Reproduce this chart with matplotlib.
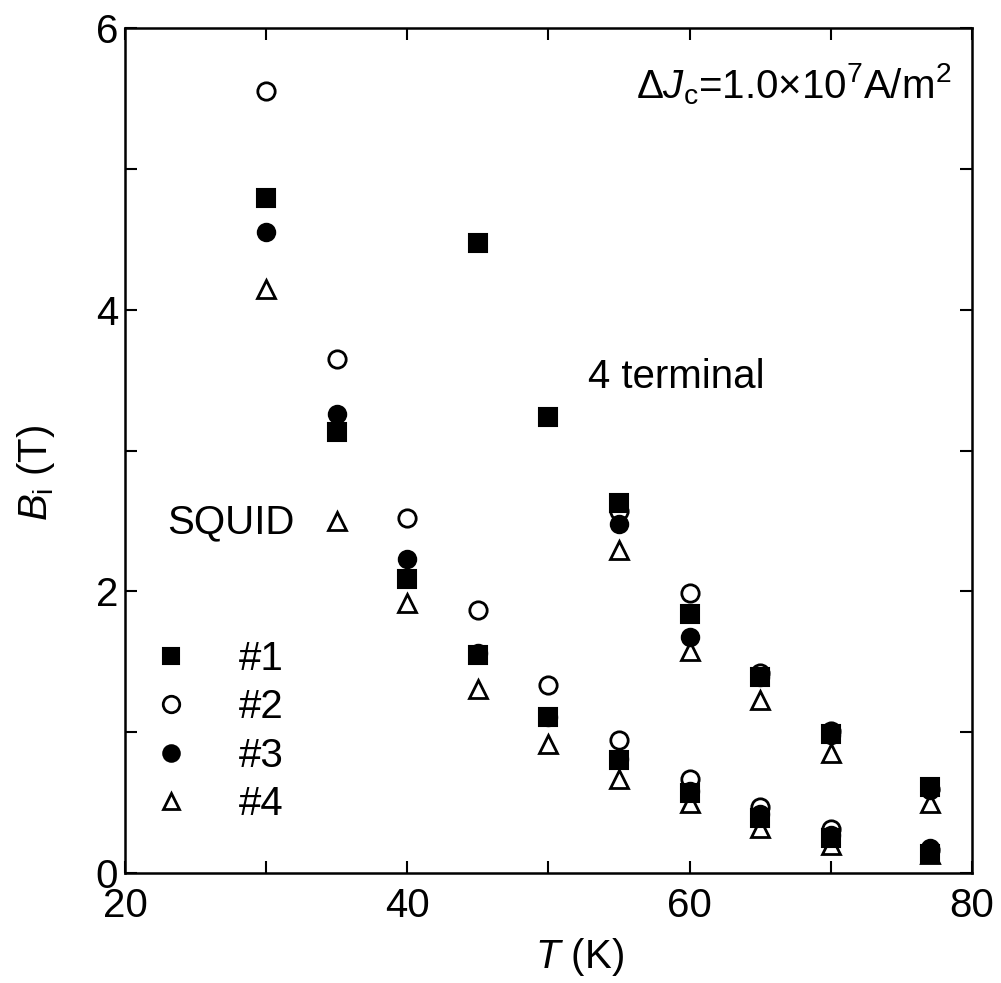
import numpy as np
import matplotlib
matplotlib.use("Agg")
import matplotlib.pyplot as plt
from matplotlib.lines import Line2D

plt.rcParams['font.family'] = ['Liberation Sans', 'DejaVu Sans']
plt.rcParams['mathtext.fontset'] = 'custom'
plt.rcParams['mathtext.rm'] = 'Liberation Sans'
plt.rcParams['mathtext.it'] = 'Liberation Sans:italic'
plt.rcParams['mathtext.bf'] = 'Liberation Sans:bold'

nan = np.nan

# SQUID measurements
T_squid = [30, 35, 40, 45, 50, 55, 60, 65, 70, 77]
squid_1 = [4.79, 3.13, 2.085, 1.546, 1.106, 0.80, 0.567, 0.39, 0.25, 0.135]
squid_2 = [5.55, 3.65, 2.52, 1.87, 1.333, 0.943, 0.67, 0.468, 0.31, 0.16]
squid_3 = [4.555, 3.26, 2.23, 1.565, 1.11, 0.81, 0.58, 0.42, 0.27, 0.18]
squid_4 = [4.15, 2.50, 1.92, 1.31, 0.915, 0.67, 0.50, 0.32, 0.20, 0.135]

# 4 terminal measurements
T_4t = [45, 50, 55, 60, 65, 70, 77]
term_1 = [4.475, 3.24, 2.63, 1.84, 1.39, 0.99, 0.613]
term_2 = [nan, nan, 2.57, 1.985, 1.42, 1.01, 0.60]
term_3 = [nan, nan, 2.475, 1.675, 1.39, 0.98, 0.59]
term_4 = [nan, nan, 2.29, 1.575, 1.23, 0.85, 0.50]

labels = ['#1', '#2', '#3', '#4']

fig = plt.figure(figsize=(10.01, 9.83), dpi=100)
ax = fig.add_axes([0.1249, 0.1119, 0.971 - 0.1249, 0.9715 - 0.1119])

FS = 29
styles = [
    dict(marker='s', ms=12.5, mfc='black', mec='black', mew=1.5),
    dict(marker='o', ms=12.5, mfc='white', mec='black', mew=2),
    dict(marker='o', ms=12.5, mfc='black', mec='black', mew=1.5),
    dict(marker='^', ms=12.5, mfc='white', mec='black', mew=2),
]
order = [1, 3, 2, 0]  # draw order: open circles first, squares last

for i in order:
    ys = [squid_1, squid_2, squid_3, squid_4][i]
    yt = [term_1, term_2, term_3, term_4][i]
    ax.plot(T_squid, ys, ls='none', **styles[i])
    ax.plot(T_4t, yt, ls='none', **styles[i])

ax.set_xlim(20, 80)
ax.set_ylim(0, 6)
ax.set_xticks([20, 40, 60, 80])
ax.set_xticks([30, 50, 70], minor=True)
ax.set_yticks([0, 2, 4, 6])
ax.set_yticks([1, 3, 5], minor=True)
ax.tick_params(which='both', direction='in', top=True, right=True,
               length=8.5, width=1.5, labelsize=FS)
ax.tick_params(axis='x', which='major', pad=10)
ax.tick_params(axis='y', which='major', pad=5)
for s in ax.spines.values():
    s.set_linewidth(1.8)

ax.set_xlabel(r'$T$ (K)', fontsize=FS)
ax.set_ylabel(r'$B_{\rm i}$ (T)', fontsize=FS)
ax.xaxis.set_label_coords(0.537, -0.075)
ax.yaxis.set_label_coords(-0.08, 0.473)

ax.text(52.8, 3.52, '4 terminal', fontsize=FS, ha='left', va='center')
ax.text(22.98, 2.49, 'SQUID', fontsize=FS, ha='left', va='center')
ax.text(78.5, 5.6, r'$\Delta J_{\rm c}$=1.0$\times$10$^7$A/m$^2$',
        fontsize=FS, ha='right', va='center')

handles = [Line2D([], [], ls='none', **styles[i]) for i in range(4)]
ax.legend(handles, labels, loc='upper left', bbox_to_anchor=(0.007, 0.276),
          frameon=False, fontsize=FS, numpoints=1, handlelength=2.0,
          handletextpad=0.67, labelspacing=0.26, borderpad=0,
          borderaxespad=0, markerscale=0.95)

fig.savefig('out.png', dpi=100)
